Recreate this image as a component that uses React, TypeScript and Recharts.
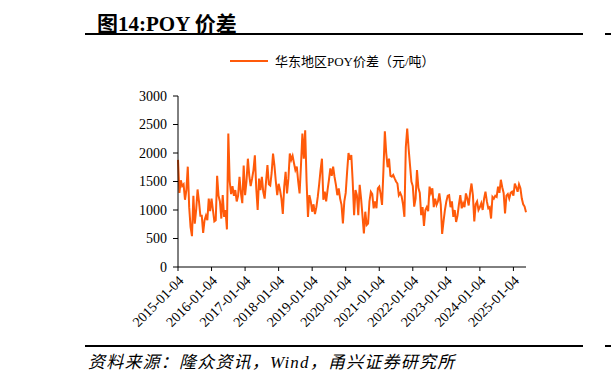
import { LineChart, Line, XAxis, YAxis } from 'recharts';

const TITLE = '图14:POY 价差';
const SERIES_NAME = '华东地区POY价差（元/吨）';
const SOURCE = '资料来源：隆众资讯，Wind，甬兴证券研究所';

const Y_TICKS = [0, 500, 1000, 1500, 2000, 2500, 3000];
const X_TICKS = [
  '2015-01-04', '2016-01-04', '2017-01-04', '2018-01-04', '2019-01-04', '2020-01-04',
  '2021-01-04', '2022-01-04', '2023-01-04', '2024-01-04', '2025-01-04',
];

// spread, yuan/ton, sampled on the 4th and 19th of each month
const v2015 = [1880, 1300, 1520, 1420, 1450, 1180, 1350, 1760, 1050, 700, 540, 1250, 760, 1000, 1360, 1150, 900, 900, 600, 820, 900, 820, 1200, 980];
const v2016 = [1200, 1000, 800, 820, 1600, 1250, 1150, 850, 1260, 880, 1000, 660, 2340, 1500, 1280, 1420, 1250, 1350, 1150, 1250, 1580, 1300, 1120, 1780];
const v2017 = [1260, 1500, 1900, 1600, 1420, 1550, 1700, 1960, 1380, 1000, 1550, 1350, 1580, 1320, 1200, 1500, 1790, 1450, 1430, 1650, 1990, 1780, 1500, 1260];
const v2018 = [1460, 1350, 1200, 930, 1410, 1670, 1290, 1550, 1990, 1880, 1950, 1820, 1700, 1760, 1500, 1290, 1790, 2340, 1900, 2400, 1500, 880, 1260, 1150];
const v2019 = [970, 1100, 930, 1050, 1230, 1450, 1700, 1900, 1180, 1320, 1150, 1350, 1530, 1730, 1600, 1760, 1580, 1440, 1260, 1380, 1200, 1090, 765, 1150];
const v2020 = [1300, 1670, 2000, 1880, 1965, 1500, 910, 1350, 1260, 910, 1440, 1200, 900, 590, 970, 735, 760, 1150, 1320, 1280, 1030, 1150, 1030, 1380];
const v2021 = [1410, 1280, 1090, 1700, 2380, 1994, 1750, 1900, 1600, 1585, 1615, 1555, 1500, 1465, 1260, 1300, 1240, 1100, 880, 2100, 2430, 2080, 1790, 1500];
const v2022 = [1420, 1060, 1200, 1700, 1390, 1300, 910, 1050, 720, 1000, 1050, 980, 1410, 1300, 1380, 1050, 1200, 1090, 1150, 1290, 1100, 580, 800, 1000];
const v2023 = [1150, 1250, 1260, 1050, 1150, 880, 1000, 790, 900, 1100, 1260, 1030, 1120, 1050, 1290, 1200, 1080, 1300, 1465, 1260, 800, 1100, 1150, 1000];
const v2024 = [1050, 1120, 1000, 1200, 1320, 1150, 1030, 1050, 850, 1230, 1200, 1250, 1230, 1410, 1300, 1530, 1400, 1300, 940, 1250, 1280, 1200, 1300, 1320];
const v2025 = [1250, 1465, 1400, 1320, 1450, 1380, 1200, 1100, 1060, 960];

const values = [...v2015, ...v2016, ...v2017, ...v2018, ...v2019, ...v2020, ...v2021, ...v2022, ...v2023, ...v2024, ...v2025];

const dates: string[] = [];
for (let y = 2015; y <= 2025; y++) {
  for (let m = 1; m <= 12; m++) {
    for (const d of ['04', '19']) dates.push(`${y}-${String(m).padStart(2, '0')}-${d}`);
  }
}
const data = values.map((v, i) => ({ date: dates[i], spread: v }));

const ORANGE = '#FF5A0A';
const SERIF = "'Liberation Serif', 'Times New Roman', serif";
const CJK = "'Liberation Serif', 'Noto Sans CJK SC', serif";

const XTick = ({ x, y, payload }: any) => (
  <g transform={`translate(${x + 3},${y + 5})`}>
    <text textAnchor="end" transform="rotate(-45)" dy="0.35em" fontSize={14} fontFamily={SERIF} fill="#000">
      {payload.value}
    </text>
  </g>
);

export default function App() {
  return (
    <div style={{ position: 'fixed', left: 0, top: 0, width: 611, height: 380, background: '#fff', overflow: 'hidden' }}>
      <div style={{ position: 'absolute', left: 97, top: 7, fontSize: 21, fontWeight: 700, fontFamily: CJK, color: '#000', whiteSpace: 'nowrap' }}>
        {TITLE}
      </div>
      <div style={{ position: 'absolute', left: 85, top: 33, width: 498, height: 2, background: '#000' }} />
      <div style={{ position: 'absolute', left: 605, top: 33, width: 6, height: 2, background: '#000' }} />

      <div style={{ position: 'absolute', left: 230, top: 51, display: 'flex', alignItems: 'center', whiteSpace: 'nowrap' }}>
        <div style={{ width: 38, height: 2, background: ORANGE }} />
        <span style={{ marginLeft: 7, fontSize: 13, fontFamily: CJK, color: '#000' }}>{SERIES_NAME}</span>
      </div>

      <div style={{ position: 'absolute', left: 0, top: 0 }}>
        <LineChart width={611} height={380} data={data} margin={{ top: 96, right: 85, bottom: 33, left: 118 }}>
          <XAxis
            dataKey="date"
            ticks={X_TICKS}
            interval={0}
            tick={<XTick />}
            tickSize={4}
            axisLine={{ stroke: '#000' }}
            tickLine={{ stroke: '#000' }}
            height={80}
          />
          <YAxis
            domain={[0, 3000]}
            ticks={Y_TICKS}
            width={60}
            tickSize={5}
            tickMargin={6}
            axisLine={{ stroke: '#000' }}
            tickLine={{ stroke: '#000' }}
            tick={{ fontSize: 14, fontFamily: SERIF, fill: '#000' }}
          />
          <Line
            type="linear"
            dataKey="spread"
            name={SERIES_NAME}
            stroke={ORANGE}
            strokeWidth={2}
            dot={false}
            isAnimationActive={false}
          />
        </LineChart>
      </div>

      <div style={{ position: 'absolute', left: 85, top: 345, width: 498, height: 2, background: '#000' }} />
      <div style={{ position: 'absolute', left: 605, top: 345, width: 6, height: 2, background: '#000' }} />
      <div style={{ position: 'absolute', left: 88, top: 348, fontSize: 17, fontStyle: 'italic', fontFamily: CJK, color: '#000', whiteSpace: 'nowrap', letterSpacing: 1.2 }}>
        {SOURCE}
      </div>
    </div>
  );
}
